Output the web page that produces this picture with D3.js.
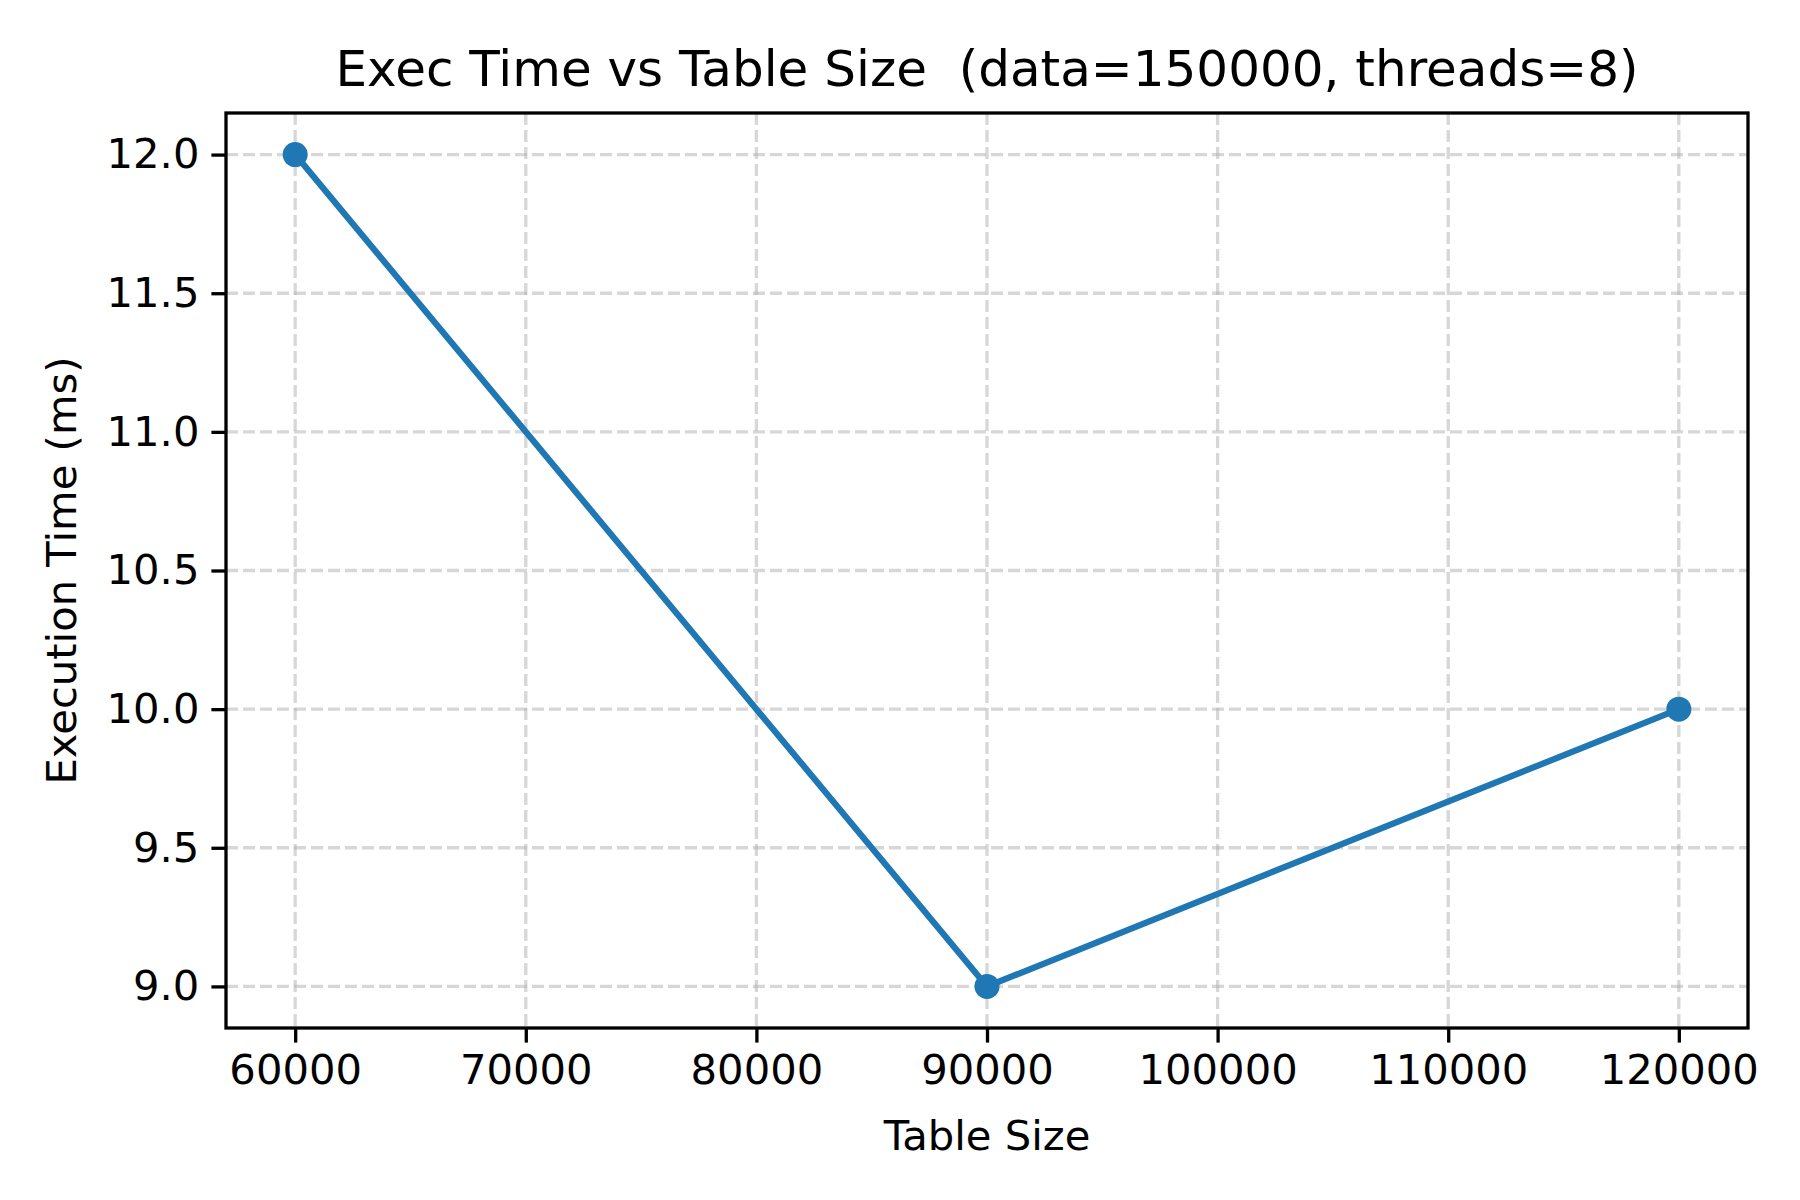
<!DOCTYPE html>
<html><head><meta charset="utf-8">
<script src="https://cdn.jsdelivr.net/npm/d3@7"></script>
<style>body{margin:0;background:#fff}text{font-family:"DejaVu Sans",sans-serif;fill:#000}</style>
</head><body><svg id="chart" width="1800" height="1200"></svg>
<script>
var tableSizes = [60000, 90000, 120000];
var execTimes = [12.0, 9.0, 10.0];
var xTicks = [60000, 70000, 80000, 90000, 100000, 110000, 120000];
var yTicks = [9.0, 9.5, 10.0, 10.5, 11.0, 11.5, 12.0];

(function() {
  var svg = d3.select('#chart');
  var pLeft = 226, pRight = 1748, pTop = 113, pBottom = 1028;
  var x = d3.scaleLinear().domain([57000, 123000]).range([pLeft, pRight]);
  var y = d3.scaleLinear().domain([8.85, 12.15]).range([pBottom, pTop]);

  var grid = svg.append('g');
  grid.selectAll('line.gx').data(xTicks).enter().append('line').attr('class', 'gx')
    .attr('x1', function(d) { return x(d); }).attr('x2', function(d) { return x(d); })
    .attr('y1', pTop).attr('y2', pBottom);
  grid.selectAll('line.gy').data(yTicks).enter().append('line').attr('class', 'gy')
    .attr('y1', function(d) { return y(d); }).attr('y2', function(d) { return y(d); })
    .attr('x1', pLeft).attr('x2', pRight);
  grid.selectAll('line')
    .attr('stroke', '#b0b0b0').attr('stroke-opacity', 0.5).attr('stroke-width', 3.3).attr('stroke-dasharray', '12,5');

  var xAxis = svg.append('g').attr('transform', 'translate(0,' + pBottom + ')')
    .call(d3.axisBottom(x).tickValues(xTicks).tickFormat(d3.format('d')).tickSize(14.6).tickPadding(12));
  var yAxis = svg.append('g').attr('transform', 'translate(' + pLeft + ',0)')
    .call(d3.axisLeft(y).tickValues(yTicks).tickFormat(d3.format('.1f')).tickSize(14.6).tickPadding(12));
  [xAxis, yAxis].forEach(function(a) {
    a.select('.domain').remove();
    a.selectAll('line').attr('stroke', '#000').attr('stroke-width', 3.3);
    a.selectAll('text').attr('font-size', 41.7).attr('font-family', 'DejaVu Sans');
  });

  svg.append('rect').attr('x', pLeft).attr('y', pTop).attr('width', pRight - pLeft).attr('height', pBottom - pTop)
    .attr('fill', 'none').attr('stroke', '#000').attr('stroke-width', 3.3);

  var line = d3.line().x(function(d, i) { return x(tableSizes[i]); }).y(function(d) { return y(d); });
  svg.append('path').datum(execTimes).attr('d', line)
    .attr('fill', 'none').attr('stroke', '#1f77b4').attr('stroke-width', 6.25);
  svg.selectAll('circle').data(execTimes).enter().append('circle')
    .attr('cx', function(d, i) { return x(tableSizes[i]); }).attr('cy', function(d) { return y(d); })
    .attr('r', 12.5).attr('fill', '#1f77b4');

  svg.append('text').attr('x', (pLeft + pRight) / 2).attr('y', 86).attr('text-anchor', 'middle')
    .attr('font-size', 50).style('white-space', 'pre').text('Exec Time vs Table Size  (data=150000, threads=8)');
  svg.append('text').attr('x', (pLeft + pRight) / 2).attr('y', 1150).attr('text-anchor', 'middle')
    .attr('font-size', 41.7).text('Table Size');
  svg.append('text').attr('transform', 'translate(76,' + ((pTop + pBottom) / 2) + ') rotate(-90)')
    .attr('text-anchor', 'middle').attr('font-size', 41.7).text('Execution Time (ms)');
})();
</script></body></html>
